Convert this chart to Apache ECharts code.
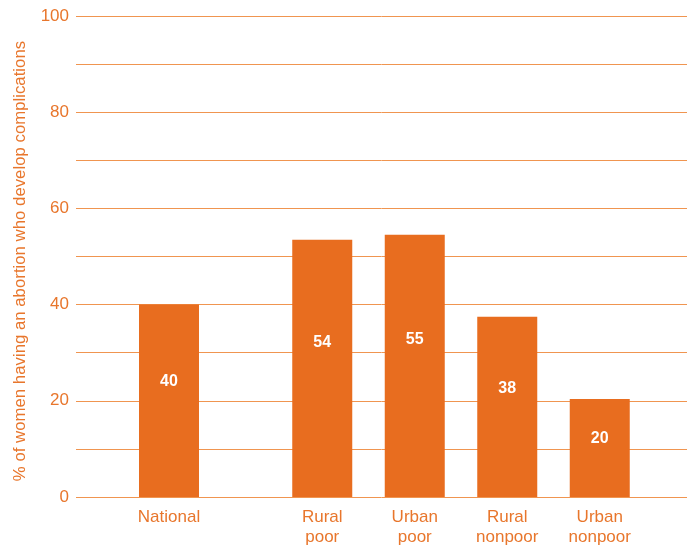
<!DOCTYPE html>
<html>
<head>
<meta charset="utf-8">
<script src="https://cdn.jsdelivr.net/npm/echarts@6/dist/echarts.min.js"></script>
<style>
  html, body { margin: 0; padding: 0; background: #fff; }
  #chart { width: 687px; height: 545px; }
</style>
</head>
<body>
<div id="chart"></div>
<script>
// data
let nationalName = ['National'];
let nationalValue = [40];
let nationalLabel = ['40'];
let groupNames = ['Rural\npoor', 'Urban\npoor', 'Rural\nnonpoor', 'Urban\nnonpoor'];
let groupValues = [53.5, 54.5, 37.5, 20.4];
let groupLabels = ['54', '55', '38', '20'];
let yTicks = [0, 20, 40, 60, 80, 100];

let orange = '#e86d1f';
let textOrange = '#e8762c';
let lineOrange = '#f09550';
let font = '"Liberation Sans", sans-serif';

let chart = echarts.init(document.getElementById('chart'));

// bar label, a bit above the middle of the bar
function barLabel(labels) {
  return {
    show: true,
    position: ['50%', '40%'],
    align: 'center',
    verticalAlign: 'middle',
    color: '#fff',
    fontFamily: font,
    fontWeight: 'bold',
    fontSize: 16,
    formatter: p => labels[p.dataIndex]
  };
}

let hiddenY = (idx) => ({
  gridIndex: idx, type: 'value', min: 0, max: 100, show: false
});

let catAxis = (idx, names) => ({
  gridIndex: idx,
  type: 'category',
  data: names,
  axisLine: { show: false },
  axisTick: { show: false },
  axisLabel: {
    color: textOrange,
    fontFamily: font,
    fontSize: 17,
    lineHeight: 20,
    margin: 10
  }
});

let option = {
  animation: false,
  grid: [
    // background grid with the gridlines and y labels
    { left: 76, right: 0, top: 16, bottom: 48, outerBoundsMode: 'none' },
    // National
    { left: 123, width: 92, top: 16, bottom: 48, outerBoundsMode: 'none' },
    // the four groups
    { left: 276, width: 370, top: 16, bottom: 48, outerBoundsMode: 'none' }
  ],
  xAxis: [
    { gridIndex: 0, type: 'value', min: 0, max: 1, show: false },
    catAxis(1, nationalName),
    catAxis(2, groupNames)
  ],
  yAxis: [
    {
      gridIndex: 0,
      type: 'value',
      min: 0,
      max: 100,
      interval: 10,
      name: '% of women having an abortion who develop complications',
      nameLocation: 'middle',
      nameGap: 47,
      nameTextStyle: {
        color: textOrange,
        fontFamily: font,
        fontSize: 16.8,
        padding: [0, 9, 0, 0]
      },
      axisLine: { show: false },
      axisTick: { show: false },
      axisLabel: {
        color: textOrange,
        fontFamily: font,
        fontSize: 17,
        margin: 7,
        formatter: v => (yTicks.indexOf(v) >= 0 ? String(v) : '')
      },
      splitLine: { lineStyle: { color: lineOrange, width: 1 } }
    },
    hiddenY(1),
    hiddenY(2)
  ],
  series: [
    {
      type: 'bar',
      xAxisIndex: 1,
      yAxisIndex: 1,
      data: nationalValue,
      barWidth: 60,
      itemStyle: { color: orange },
      label: barLabel(nationalLabel)
    },
    {
      type: 'bar',
      xAxisIndex: 2,
      yAxisIndex: 2,
      data: groupValues,
      barWidth: 60,
      itemStyle: { color: orange },
      label: barLabel(groupLabels)
    }
  ]
};

chart.setOption(option);
</script>
</body>
</html>
